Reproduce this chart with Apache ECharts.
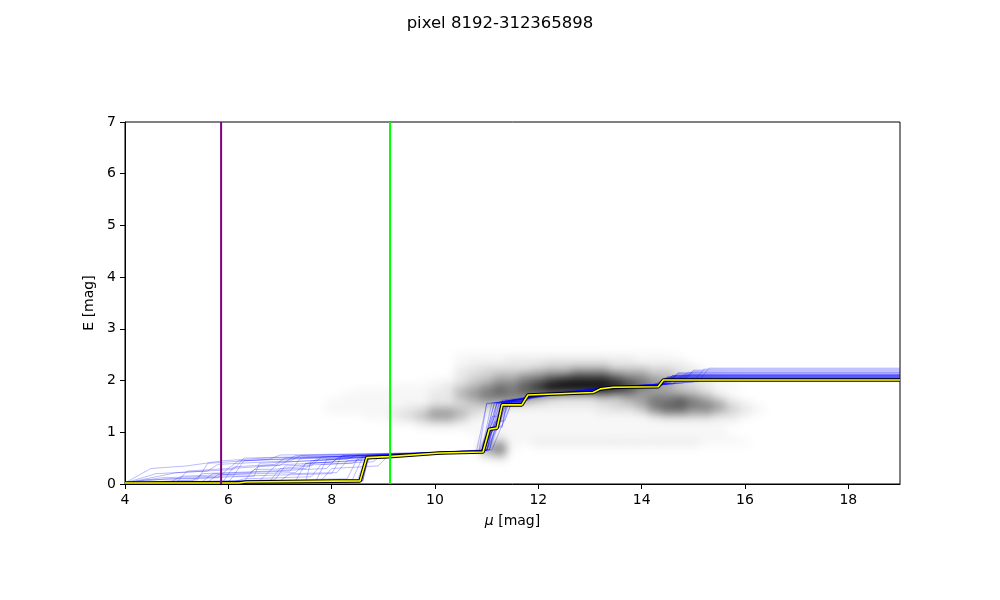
<!DOCTYPE html>
<html><head><meta charset="utf-8">
<script src="https://cdn.jsdelivr.net/npm/echarts@6/dist/echarts.min.js"></script>
<style>
html,body{margin:0;padding:0;background:#fff}
#bg,#fg{position:absolute;left:0;top:0;width:1000px;height:600px}
#bg{filter:blur(4px)}
</style>
</head><body>
<div id="bg"></div><div id="fg"></div>
<script>
// ---------- data ----------
const titleText = 'pixel 8192-312365898';
const xTicks = [4, 6, 8, 10, 12, 14, 16, 18];
const yTicks = [0, 1, 2, 3, 4, 5, 6, 7];

// best fit line
const fitMu = [4, 6.2, 6.35, 8.55, 8.68, 9.1, 10.1, 10.93, 11.05, 11.2, 11.3, 11.68, 11.8, 13.06, 13.2, 13.45, 14.32, 14.42, 19];
const fitE  = [0.02, 0.02, 0.04, 0.06, 0.51, 0.53, 0.6, 0.62, 1.06, 1.08, 1.53, 1.53, 1.72, 1.77, 1.84, 1.87, 1.88, 2.01, 2.01];

// vertical markers
const purpleMu = 5.86;
const greenMu = 9.13;

// sampled reddening profiles
const samples = [
 [[4,0.02],[6.2,0.04],[8.6,0.06],[8.7,0.5],[10.9,0.63],[11.05,1.08],[11.2,1.1],[11.3,1.55],[11.7,1.57],[11.85,1.72],[13.1,1.8],[13.3,1.88],[14.3,1.9],[14.45,2.04],[19,2.04]],
 [[4,0.02],[4.5,0.3],[5.2,0.35],[5.9,0.45],[6.7,0.5],[9.0,0.56],[10.95,0.66],[11.35,1.6],[11.9,1.68],[13.2,1.85],[14.4,1.92],[14.6,2.1],[19,2.1]],
 [[4,0.02],[6.8,0.05],[7.0,0.3],[7.6,0.35],[7.8,0.52],[9.5,0.58],[11.0,0.65],[11.15,1.2],[11.3,1.22],[11.45,1.6],[12.0,1.7],[13.5,1.88],[14.5,1.95],[14.7,2.15],[19,2.15]],
 [[4,0.02],[5.5,0.05],[5.7,0.2],[7.2,0.25],[7.4,0.5],[9.2,0.57],[10.8,0.62],[11.0,1.55],[11.8,1.65],[12.9,1.8],[14.2,1.9],[14.4,2.0],[19,2.0]],
 [[4,0.02],[6.0,0.04],[6.1,0.15],[8.0,0.2],[8.2,0.55],[9.8,0.6],[11.1,0.66],[11.5,1.62],[12.2,1.72],[13.4,1.87],[14.8,1.95],[15.0,2.2],[19,2.2]],
 [[4,0.02],[7.5,0.06],[7.6,0.45],[9.1,0.55],[10.9,0.64],[11.2,1.57],[11.7,1.62],[11.9,1.72],[13.0,1.8],[14.3,1.91],[14.5,2.06],[19,2.06]],
 [[4,0.02],[4.8,0.1],[6.5,0.15],[6.6,0.4],[8.5,0.5],[9.5,0.58],[11.05,0.66],[11.3,1.58],[12.5,1.75],[13.6,1.89],[14.6,1.93],[14.9,2.12],[19,2.12]],
 [[4,0.02],[6.9,0.08],[7.1,0.35],[8.4,0.4],[8.6,0.52],[10.2,0.6],[10.95,0.64],[11.1,1.1],[11.3,1.12],[11.4,1.58],[11.8,1.62],[12.0,1.74],[13.2,1.82],[14.35,1.9],[14.5,2.08],[19,2.08]],
 [[4,0.02],[5.0,0.03],[5.2,0.25],[6.0,0.3],[6.2,0.45],[8.8,0.53],[10.85,0.63],[11.0,1.56],[11.6,1.6],[11.8,1.7],[13.1,1.83],[14.4,1.92],[14.55,2.02],[19,2.02]],
 [[4,0.02],[8.3,0.1],[8.5,0.5],[10.9,0.63],[11.25,1.59],[11.75,1.64],[11.9,1.74],[13.3,1.88],[14.45,1.93],[14.65,2.1],[19,2.1]],
 [[4,0.02],[6.3,0.05],[6.5,0.28],[7.5,0.3],[7.7,0.48],[9.3,0.56],[11.0,0.65],[11.4,1.6],[12.3,1.74],[13.5,1.87],[14.4,1.91],[14.6,2.07],[19,2.07]],
 [[4,0.02],[4.4,0.08],[5.8,0.12],[6.0,0.3],[7.0,0.36],[7.3,0.55],[9.6,0.6],[10.9,0.63],[11.1,1.3],[11.25,1.32],[11.35,1.6],[12.1,1.7],[13.3,1.86],[15.0,1.97],[15.2,2.22],[19,2.22]],
 [[4,0.02],[7.8,0.07],[8.0,0.3],[8.9,0.35],[9.1,0.55],[10.9,0.63],[11.15,1.56],[11.7,1.6],[11.85,1.71],[13.05,1.79],[13.3,1.87],[14.3,1.9],[14.45,2.03],[19,2.03]],
 [[4,0.02],[5.3,0.06],[5.5,0.2],[6.8,0.25],[7.0,0.42],[8.3,0.48],[8.5,0.56],[10.5,0.62],[11.05,0.66],[11.3,1.62],[12.4,1.76],[13.4,1.88],[14.5,1.94],[14.7,2.14],[19,2.14]],
 [[4,0.02],[6.5,0.05],[8.6,0.07],[8.7,0.51],[10.95,0.64],[11.1,1.08],[11.3,1.1],[11.38,1.55],[11.7,1.58],[11.85,1.72],[13.1,1.8],[13.3,1.87],[14.35,1.9],[14.45,2.05],[19,2.05]],
 [[4,0.02],[4.6,0.2],[5.6,0.25],[5.8,0.38],[7.2,0.45],[7.4,0.55],[9.4,0.59],[10.95,0.65],[11.35,1.6],[12.0,1.7],[13.2,1.84],[14.5,1.93],[14.7,2.12],[19,2.12]],
 [[4,0.02],[7.0,0.06],[7.2,0.2],[8.1,0.22],[8.3,0.45],[9.2,0.54],[11.0,0.64],[11.2,1.56],[11.7,1.6],[11.9,1.72],[13.2,1.83],[14.3,1.9],[14.5,2.06],[19,2.06]],
 [[4,0.02],[5.9,0.05],[6.1,0.33],[6.9,0.38],[7.1,0.5],[9.0,0.56],[10.85,0.63],[11.3,1.6],[12.5,1.77],[13.5,1.88],[14.6,1.94],[14.9,2.16],[19,2.16]],
 [[4,0.02],[8.4,0.08],[8.6,0.52],[10.9,0.63],[11.05,1.05],[11.2,1.08],[11.3,1.56],[11.7,1.58],[11.85,1.71],[13.1,1.8],[13.35,1.87],[14.35,1.9],[14.45,2.04],[19,2.04]],
 [[4,0.02],[4.9,0.05],[5.1,0.15],[6.4,0.2],[6.6,0.35],[8.0,0.42],[8.2,0.54],[10.3,0.61],[11.0,0.65],[11.45,1.61],[12.1,1.71],[13.4,1.87],[14.4,1.92],[14.6,2.09],[19,2.09]],
 [[4,0.02],[7.3,0.06],[7.5,0.4],[8.7,0.46],[8.9,0.56],[10.9,0.64],[11.1,1.57],[11.7,1.61],[11.9,1.73],[13.2,1.84],[14.4,1.92],[14.55,2.08],[19,2.08]],
 [[4,0.02],[6.1,0.04],[6.3,0.1],[7.6,0.14],[7.8,0.38],[8.8,0.43],[9.0,0.57],[10.9,0.64],[11.2,1.2],[11.35,1.22],[11.5,1.61],[12.2,1.73],[13.4,1.87],[15.1,1.98],[15.3,2.24],[19,2.24]],
 [[4,0.02],[5.4,0.08],[5.6,0.4],[6.8,0.48],[7.0,0.56],[9.5,0.6],[11.0,0.65],[11.25,1.58],[11.75,1.62],[11.9,1.72],[13.0,1.8],[13.3,1.88],[14.3,1.9],[14.45,2.03],[19,2.03]],
 [[4,0.02],[8.5,0.06],[8.65,0.5],[10.9,0.63],[11.1,1.1],[11.25,1.12],[11.35,1.57],[11.7,1.59],[11.85,1.72],[13.1,1.8],[13.3,1.87],[14.35,1.9],[14.5,2.05],[19,2.05]],
 [[4,0.02],[6.6,0.06],[6.8,0.25],[7.9,0.3],[8.1,0.5],[9.7,0.59],[10.95,0.64],[11.3,1.59],[12.3,1.74],[13.4,1.87],[14.5,1.93],[14.8,2.11],[19,2.11]],
 [[4,0.02],[4.7,0.12],[6.1,0.16],[6.3,0.45],[7.9,0.52],[9.6,0.59],[11.05,0.66],[11.4,1.61],[12.0,1.71],[13.3,1.86],[14.4,1.92],[14.6,2.07],[19,2.07]],
 [[4,0.02],[7.7,0.07],[7.9,0.47],[9.3,0.56],[10.9,0.63],[11.15,1.57],[11.7,1.6],[11.85,1.71],[13.1,1.81],[13.35,1.88],[14.35,1.91],[14.5,2.04],[19,2.04]],
 [[4,0.02],[5.6,0.04],[5.8,0.18],[7.3,0.22],[7.5,0.4],[8.6,0.46],[8.8,0.55],[10.6,0.62],[11.0,0.65],[11.3,1.59],[12.4,1.75],[13.5,1.88],[14.7,1.95],[15.0,2.18],[19,2.18]],
 [[4,0.02],[6.4,0.05],[8.6,0.06],[8.72,0.5],[10.9,0.63],[11.05,1.07],[11.2,1.1],[11.32,1.56],[11.7,1.58],[11.85,1.72],[13.1,1.8],[13.3,1.87],[14.35,1.9],[14.45,2.04],[19,2.04]],
 [[4,0.02],[5.0,0.22],[6.1,0.28],[6.3,0.5],[9.1,0.57],[10.95,0.65],[11.2,1.58],[11.8,1.64],[11.95,1.74],[13.2,1.84],[14.45,1.93],[14.6,2.1],[19,2.1]]
];

// density map: columns mu = 8.0 .. 16.75 (step 0.25), rows E = 2.6 .. 0.4 (step 0.1), levels 0-9
const heatMu = [8,8.25,8.5,8.75,9,9.25,9.5,9.75,10,10.25,10.5,10.75,11,11.25,11.5,11.75,12,12.25,12.5,12.75,13,13.25,13.5,13.75,14,14.25,14.5,14.75,15,15.25,15.5,15.75,16,16.25,16.5,16.75];
const heatE = [2.6,2.5,2.4,2.3,2.2,2.1,2.0,1.9,1.8,1.7,1.6,1.5,1.4,1.3,1.2,1.1,1.0,0.9,0.8,0.7,0.6,0.5,0.4];
const heatRows = [
 "00000000 00 0000 0000000000 0000 00000000",
 "00000000 00 1111 1111111111 1110 00000000",
 "00000000 00 1111 2222222222 1111 00000000",
 "00000000 00 1222 2223333322 2222 10000000",
 "00000000 00 2233 3344455544 4332 21000000",
 "00000000 00 2334 4556677765 5443 21100000",
 "00000000 11 2345 5678999987 6543 22110000",
 "00000111 12 3456 6789999998 7654 32110000",
 "00111111 22 4567 6789999987 5443 32100000",
 "01111111 22 4566 6654333445 5666 54210000",
 "11111111 22 3455 5432222334 5667 65421000",
 "11111122 33 3333 2222222233 4677 66532100",
 "11111223 55 4321 1111111222 3566 55432100",
 "00011234 55 4211 1111111111 1233 33221000",
 "00000112 33 2111 1111111111 1111 11110000",
 "00000001 11 1111 1111111111 1111 11100000",
 "00000000 00 0111 1111111111 1111 11100000",
 "00000000 00 0012 1111111111 1111 11110000",
 "00000000 00 0034 1122222222 2222 21111000",
 "00000000 00 0056 1000000000 0000 00000000",
 "00000000 00 0045 0000000000 0000 00000000",
 "00000000 00 0012 0000000000 0000 00000000",
 "00000000 00 0000 0000000000 0000 00000000"
];
const heatDMu = 0.25, heatDE = 0.1;
const grayLevels = [255, 247, 233, 212, 186, 156, 124, 92, 58, 22];

// ---------- build ----------
const heatData = [];
heatRows.forEach((r, j) => {
  const s = r.replace(/ /g, '');
  for (let i = 0; i < heatMu.length; i++) {
    const v = +s[i];
    if (v > 0) heatData.push([heatMu[i], heatE[j], v]);
  }
});

const GRID = {left: 125, right: 100, top: 122, bottom: 116, containLabel: false};
const FONT = 'DejaVu Sans';

const bg = echarts.init(document.getElementById('bg'), null, {renderer: 'canvas'});
bg.setOption({
  animation: false,
  backgroundColor: 'transparent',
  grid: GRID,
  xAxis: {type: 'value', min: 4, max: 19, show: false},
  yAxis: {type: 'value', min: 0, max: 7, show: false},
  series: [{
    type: 'custom',
    silent: true,
    encode: {x: 0, y: 1},
    data: heatData,
    renderItem: function (params, api) {
      const x = api.value(0), y = api.value(1), v = api.value(2);
      const p0 = api.coord([x - heatDMu / 2, y + heatDE / 2]);
      const p1 = api.coord([x + heatDMu / 2, y - heatDE / 2]);
      const g = grayLevels[v];
      return {
        type: 'rect',
        shape: {x: p0[0], y: p0[1], width: p1[0] - p0[0] + 0.5, height: p1[1] - p0[1] + 0.5},
        style: {fill: 'rgb(' + g + ',' + g + ',' + g + ')'}
      };
    }
  }]
});

const series = [];
samples.forEach(s => {
  series.push({
    type: 'line', data: s, showSymbol: false, silent: true, z: 2,
    lineStyle: {color: 'rgba(0,0,255,0.3)', width: 0.9}
  });
});
const fitData = fitMu.map((m, i) => [m, fitE[i]]);
series.push({type: 'line', data: fitData, showSymbol: false, silent: true, z: 3,
  lineStyle: {color: '#000', width: 3.6}});
series.push({type: 'line', data: fitData, showSymbol: false, silent: true, z: 4,
  lineStyle: {color: '#ffff00', width: 1.6}});
series.push({type: 'line', data: [[purpleMu, 0], [purpleMu, 7]], showSymbol: false, silent: true, z: 5,
  lineStyle: {color: '#800080', width: 2}});
series.push({type: 'line', data: [[greenMu, 0], [greenMu, 7]], showSymbol: false, silent: true, z: 5,
  lineStyle: {color: '#00ff00', width: 2}});

const fg = echarts.init(document.getElementById('fg'), null, {renderer: 'canvas'});
fg.setOption({
  animation: false,
  backgroundColor: 'transparent',
  title: {
    text: titleText, left: 'center', top: 10,
    textStyle: {fontFamily: FONT, fontSize: 16.5, fontWeight: 'normal', color: '#000'}
  },
  grid: Object.assign({show: true, borderColor: '#000', borderWidth: 1, backgroundColor: 'transparent'}, GRID),
  xAxis: {
    type: 'value', min: 4, max: 19, interval: 2,
    name: '{i|μ} [mag]', nameLocation: 'middle', nameGap: 30,
    nameTextStyle: {fontFamily: FONT, fontSize: 14, color: '#000',
      rich: {i: {fontStyle: 'italic', fontFamily: FONT, fontSize: 14, color: '#000'}}},
    axisLine: {show: true, onZero: false, lineStyle: {color: '#000', width: 1}},
    axisTick: {show: true, length: 5, customValues: xTicks, lineStyle: {color: '#000', width: 1}},
    axisLabel: {color: '#000', fontFamily: FONT, fontSize: 14, margin: 9, customValues: xTicks},
    splitLine: {show: false}
  },
  yAxis: {
    type: 'value', min: 0, max: 7, interval: 1,
    name: 'E [mag]', nameLocation: 'middle', nameGap: 26, nameRotate: 90,
    nameTextStyle: {fontFamily: FONT, fontSize: 14, color: '#000'},
    axisLine: {show: true, onZero: false, lineStyle: {color: '#000', width: 1}},
    axisTick: {show: true, length: 5, customValues: yTicks, lineStyle: {color: '#000', width: 1}},
    axisLabel: {color: '#000', fontFamily: FONT, fontSize: 14, margin: 9, customValues: yTicks},
    splitLine: {show: false}
  },
  series: series
});
</script>
</body></html>
